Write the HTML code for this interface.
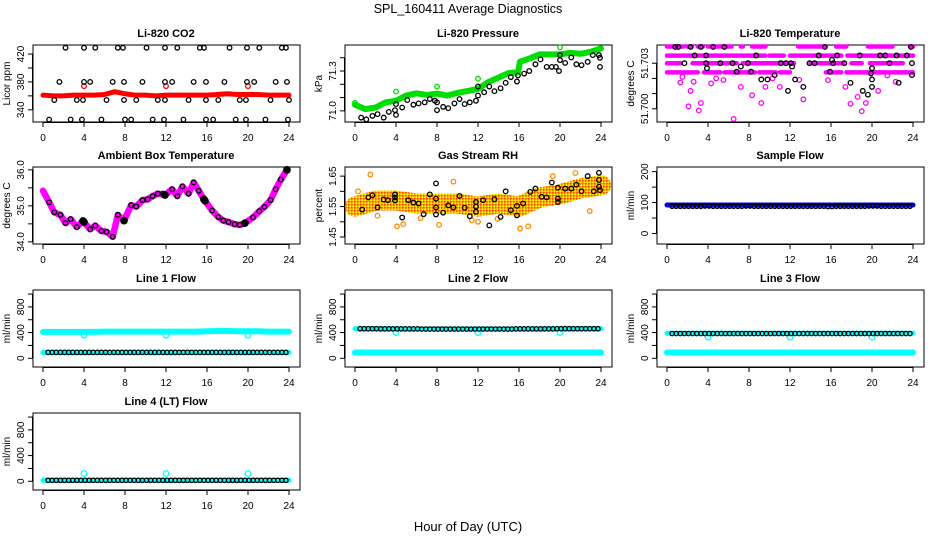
<!DOCTYPE html>
<html><head><meta charset="utf-8">
<style>
html,body{margin:0;padding:0;background:#fff;}
svg{display:block;font-family:"Liberation Sans",Arial,sans-serif;}
.ttl{font-size:11px;font-weight:bold;}
.tk{font-size:10px;}
</style></head>
<body>
<svg id="chart" width="936" height="540" viewBox="0 0 936 540">
<text x="468" y="13" text-anchor="middle" font-size="12.5">SPL_160411  Average Diagnostics</text>
<text x="468" y="531" text-anchor="middle" font-size="13">Hour of Day (UTC)</text>
</svg>
<script>
// ---- data ----
const xTicks=[0,4,8,12,16,20,24];
// CO2
const co2RedH=[0,1,2,3,4,5,6,7,8,9,10,11,12,13,14,15,16,17,18,19,20,21,22,23,24];
const co2RedV=[361,360,360,361,361,361,362,366,363,361,361,360,361,361,361,361,361,362,363,362,362,362,361,361,361];
const co2RedPtsH=[4,12,20];
const co2RedPtsV=[374,374,374];
const co2BlkH=[2.2,4,5.1,7.3,7.8,10.1,11.9,13.1,15.3,15.7,18.2,19.9,21.1,23.3,23.7,
 1.6,4,4.6,6.8,7.9,9.7,11.9,12.6,14.7,15.9,17.7,19.9,20.6,22.7,23.8,
 1.1,3.3,3.9,6.2,7.9,9.1,11.2,11.9,14.2,15.9,17.1,19.2,19.8,22.2,24,
 0.6,2.7,3.8,5.7,8,8.6,10.7,11.8,13.7,15.9,16.6,18.8,19.8,21.7,23.9];
const co2BlkV=[429,429,429,429,429,429,429,429,429,429,429,429,429,429,429,
 380,380,380,380,380,380,380,380,380,380,380,380,380,380,380,
 354,354,354,354,354,354,354,354,354,354,354,354,354,354,354,
 326,326,326,326,326,326,326,326,326,326,326,326,326,326,326];
// Pressure
const prGrnH=[0,1,2,3,4,5,6,7,8,9,10,11,12,13,14,15,15.9,16.1,17,18,19,20,21,22,23,24];
const prGrnV=[71.046,71.013,71.025,71.064,71.076,71.115,71.132,71.12,71.13,71.115,71.135,71.15,71.165,71.216,71.25,71.285,71.29,71.37,71.394,71.425,71.425,71.425,71.437,71.43,71.445,71.47];
const prGrnPtsH=[0,4,8,12,20];
const prGrnPtsV=[71.06,71.145,71.183,71.242,71.478];
const prBlkH=[0.6,1.1,1.7,2.2,2.8,3.3,3.9,4,4,4.6,5.1,5.7,6.2,6.8,7.3,7.8,8,8,8.6,9.1,9.7,10.2,10.7,11.2,11.8,12,12,12.6,13.1,13.6,14.2,14.7,15.2,15.8,15.9,16.5,17,17.6,18.1,18.7,19.2,19.6,19.9,20,20,20.5,21.1,21.6,22.1,22.7,23.2,23.8,23.9,23.9];
const prBlkV=[70.949,70.936,70.962,70.975,70.949,70.992,71.005,70.969,71.051,71.025,71.081,71.046,71.056,71.064,71.089,71.076,71.005,71.064,71.03,71.02,71.056,71.089,71.051,71.064,71.076,71.115,71.183,71.14,71.183,71.148,71.17,71.211,71.254,71.221,71.267,71.28,71.3,71.351,71.387,71.331,71.331,71.331,71.3,71.382,71.42,71.361,71.402,71.351,71.344,71.369,71.42,71.42,71.331,71.4];
// Li-820 temperature
const tLevels=[51.7041,51.7035,51.7030,51.7024];
const tSegStart=[[0,2,3,4,7.2,8.3,12.8,16.5,19.6,23.7],[0,10,12,17.6],[0,2.5,3.7,7.4,14,18,19.8],[0,3.6,5.6,9,11,15.5,17.5,20.3]];
const tSegEnd=[[1.6,2.4,3.5,6.3,7.4,9.6,15.4,17.5,22,24],[9.6,11.4,17,24],[1.3,3.5,6.8,12.4,17.2,19,23],[3,5.2,8.6,10.6,12,17,20,24]];
const tMagH=[1.3,2.3,2.1,3.1,3.3,2.6,4.3,5.5,6.5,7.2,8.3,9.2,9.6,10.3,11,13.3,15.7,17.4,17.9,18.6,19,19.4,20.6,22.3,1.5,4.8,12.9,21.5];
const tMagV=[51.70173,51.70118,51.70016,51.69989,51.70038,51.70178,51.70167,51.70189,51.69933,51.70144,51.70089,51.70038,51.70144,51.702,51.70144,51.70062,51.70189,51.70144,51.70033,51.70078,51.69984,51.70038,51.70118,51.70178,51.7021,51.7020,51.7019,51.7022];
const tBlkH=[0.8,1.1,2.3,3.3,4.5,5.6,15.4,23.8,2.7,3.8,8.7,14.8,16.6,18.8,20.8,21.3,22.4,23.4,1.7,3.8,5.2,6.4,7.9,11.1,11.6,12.1,13.9,14.4,16.2,17.3,21.7,23.9,3.9,7.2,6.8,8.2,9.2,9.8,10.5,12.2,12.5,13.3,11.8,15.9,16.1,17.9,19.6,20,19.9,20,20,19.1,22.6,23.9];
const tBlkV=[51.70407,51.70407,51.70407,51.70407,51.70407,51.70407,51.70407,51.70407,51.70351,51.70351,51.70351,51.70351,51.70351,51.70351,51.70351,51.70351,51.70351,51.70351,51.703,51.703,51.703,51.703,51.703,51.703,51.703,51.703,51.703,51.703,51.703,51.703,51.703,51.703,51.70267,51.70278,51.70244,51.70244,51.70193,51.70193,51.70222,51.70278,51.70193,51.70144,51.70118,51.70244,51.70322,51.70171,51.70093,51.70267,51.70233,51.70193,51.70144,51.70118,51.70171,51.70222];
// Ambient
const ambMagH=[0,0.6,1.1,1.7,2.2,2.7,3.3,3.9,4.6,5.1,5.7,6.2,6.8,7.3,7.9,8.6,9.1,9.7,10.2,10.7,11.2,11.9,12.6,13.1,13.6,14.2,14.7,15.2,15.7,16.5,17.1,17.6,18.1,18.7,19.2,19.7,20.5,21.1,21.6,22.2,22.7,23.2,23.8];
const ambMagV=[35.42,35.1,34.82,34.75,34.52,34.63,34.41,34.58,34.35,34.45,34.3,34.28,34.14,34.75,34.59,35.02,34.98,35.16,35.18,35.27,35.34,35.3,35.46,35.27,35.54,35.34,35.65,35.42,35.18,34.87,34.69,34.59,34.55,34.49,34.47,34.52,34.68,34.85,34.97,35.16,35.46,35.73,36.0];
const ambBlkH=[0.6,1.1,1.7,2.2,2.7,3.3,4.6,5.1,5.7,6.2,6.8,7.3,8.6,9.1,9.7,10.2,10.7,11.2,11.7,12.6,13.1,13.6,14.2,14.7,15.2,16.5,17.1,17.6,18.1,18.7,19.2,20.5,21.1,21.6,22.2,22.7,23.2];
const ambBlkV=[35.1,34.82,34.75,34.52,34.63,34.41,34.35,34.45,34.3,34.28,34.14,34.75,35.02,34.98,35.16,35.18,35.27,35.34,35.34,35.46,35.27,35.54,35.34,35.65,35.42,34.87,34.69,34.59,34.55,34.49,34.47,34.68,34.85,34.97,35.16,35.46,35.73];
const ambFillH=[3.9,4.0,7.9,11.9,15.7,15.8,19.7,23.8];
const ambFillV=[34.58,34.55,34.59,35.3,35.18,35.14,34.52,36.0];
// RH
const rhBandH=[0,2,4,6,8,10,12,14,16,18,20,22,24];
const rhBandV=[1.55,1.57,1.57,1.56,1.56,1.56,1.55,1.56,1.55,1.58,1.59,1.61,1.62];
const rhBlkH=[0.7,1.3,1.7,2.2,2.8,3.2,3.9,3.9,3.9,4.6,5.2,5.7,6.2,6.7,7.3,7.9,7.9,7.9,7.9,8.6,9.1,9.6,10.2,10.7,11.2,11.8,11.8,11.8,12.5,13.1,13.6,14.2,14.7,15.2,15.8,15.8,16.4,17.1,17.6,18.2,18.7,19.2,19.8,19.8,19.8,20.5,21.1,21.6,22.1,22.7,23.3,23.8,23.8,23.8,23.9];
const rhBlkV=[1.54,1.58,1.587,1.547,1.573,1.571,1.59,1.58,1.57,1.514,1.571,1.563,1.56,1.525,1.59,1.626,1.576,1.547,1.524,1.53,1.554,1.547,1.585,1.546,1.518,1.565,1.55,1.533,1.571,1.488,1.574,1.516,1.6,1.538,1.552,1.521,1.56,1.598,1.609,1.582,1.58,1.629,1.612,1.576,1.565,1.609,1.609,1.622,1.6,1.65,1.6,1.661,1.637,1.615,1.604];
const rhOrgH=[1.5,4.1,4.7,9.6,16.1,16.9,21.5,0.3,2.2,6.4,8.2,11.4,13.9,19.3,22.9,12.0];
const rhOrgV=[1.655,1.485,1.492,1.632,1.478,1.485,1.66,1.6,1.52,1.512,1.49,1.505,1.51,1.65,1.535,1.5];
// Flows (hourly values)
const hours=[0,1,2,3,4,5,6,7,8,9,10,11,12,13,14,15,16,17,18,19,20,21,22,23,24];
const sampleBlue=[92,92,92,92,92,92,92,92,92,92,92,92,92,92,92,92,92,92,92,92,92,92,92,92,92];
const sampleBlk=[88,88,88,88,89,88,88,88,89,88,88,88,88,88,88,88,87,88,88,88,89,88,88,88,88];
const dipH=[4,12,20];
const l1CyanHi=[410,410,410,410,410,410,415,415,415,415,415,415,415,415,415,415,420,425,425,420,420,420,415,415,415];
const l1Dip=[360,360,360];
const l1CyanLo=[90,90,90,90,90,90,90,90,90,90,90,90,90,90,90,90,90,90,90,90,90,90,90,90,90];
const l1Blk=[92,92,92,92,92,92,92,92,92,92,92,92,92,92,92,92,92,92,92,92,92,92,92,92,92];
const l2CyanHi=[460,460,460,460,460,455,455,455,455,455,455,455,455,455,455,455,455,455,455,460,460,460,460,460,460];
const l2Dip=[400,400,400];
const l2CyanLo=[90,90,90,90,90,90,90,90,90,90,90,90,90,90,90,90,90,90,90,90,90,90,90,90,90];
const l2Blk=[460,460,460,458,458,458,458,455,455,455,455,455,455,455,455,455,458,458,458,458,460,460,460,460,460];
const l3CyanHi=[390,390,390,390,390,390,390,390,390,390,390,390,390,390,390,390,390,390,390,390,390,390,390,390,390];
const l3Dip=[330,330,330];
const l3CyanLo=[90,90,90,90,90,90,90,90,90,90,90,90,90,90,90,90,90,90,90,90,90,90,90,90,90];
const l3Blk=[385,385,385,385,385,385,385,385,385,385,385,385,385,385,385,385,385,385,385,385,385,385,385,385,385];
const l4Cyan=[15,15,15,15,15,15,15,15,15,15,15,15,15,15,15,15,15,15,15,15,15,15,15,15,15];
const l4Spike=[120,120,120];
const l4Blk=[15,15,15,15,15,15,15,15,15,15,15,15,15,15,15,15,15,15,15,15,15,15,15,15,15];

// ---- drawing ----
const svg=document.getElementById('chart');
const NS='http://www.w3.org/2000/svg';
function mk(tag,attrs,parent){const e=document.createElementNS(NS,tag);for(const k in attrs)e.setAttribute(k,attrs[k]);(parent||svg).appendChild(e);return e;}
const colX0=[43,355,667], rowTop=[45,167,290,413], W=246, H=77;
function panel(col,row,ymin,ymax,ticks,labels,ylab,title,name){
  const x0=colX0[col], top=rowTop[row], bot=top+H;
  const g=mk('g',{});
  
  
  const sx=h=>x0+h/24*W;
  const sy=v=>top+(ymax-v)/(ymax-ymin)*H;
  const box=mk('rect',{x:x0-10,y:top,width:267,height:H,fill:'none',stroke:'#000','stroke-width':1},g);
  
  
  const t=mk('text',{x:x0+123,y:top-8,'text-anchor':'middle',class:'ttl'},g);t.textContent=title;
  
  
  const xa=mk('g',{},g);
  
  
  mk('line',{x1:sx(0),x2:sx(24),y1:bot+0.5,y2:bot+0.5,stroke:'#000'},xa);
  xTicks.forEach(v=>{mk('line',{x1:sx(v),x2:sx(v),y1:bot,y2:bot+5,stroke:'#000'},xa);
    const l=mk('text',{x:sx(v),y:bot+19,'text-anchor':'middle',class:'tk'},xa);l.textContent=v;});
  const ya=mk('g',{},g);
  
  
  mk('line',{x1:x0-10.5,x2:x0-10.5,y1:sy(ticks[0]),y2:sy(ticks[ticks.length-1]),stroke:'#000'},ya);
  ticks.forEach(v=>mk('line',{x1:x0-15,x2:x0-10,y1:sy(v),y2:sy(v),stroke:'#000'},ya));
  labels.forEach(v=>{const yy=sy(v);const l=mk('text',{x:x0-19,y:yy,'text-anchor':'middle',class:'tk',transform:`rotate(-90 ${x0-19} ${yy})`},ya);l.textContent=v;});
  const yl=mk('text',{x:x0-33,y:top+H/2,'text-anchor':'middle',class:'tk',transform:`rotate(-90 ${x0-33} ${top+H/2})`},ya);yl.textContent=ylab;
  
  
  const marks=mk('g',{},g);
  
  
  return {sx,sy,g:marks};
}
function band(p,hs,vs,color,w,name){
  const pl=mk('polyline',{points:hs.map((h,i)=>p.sx(h)+','+p.sy(vs[i])).join(' '),fill:'none',stroke:color,'stroke-width':w,'stroke-linejoin':'round','stroke-linecap':'round'},p.g);
  
  
}
function pts(p,hs,vs,color,name,fill,r){
  hs.forEach((h,i)=>{const c=mk('circle',{cx:p.sx(h),cy:p.sy(vs[i]),r:r||2.3,fill:fill||'none',stroke:color,'stroke-width':1.3},p.g);
    
    });
}
function halfPts(p,vals,color,name){
  for(let h=0.5;h<=24;h+=0.4){const v=vals[Math.round(h)];
    const c=mk('circle',{cx:p.sx(h),cy:p.sy(v),r:2.2,fill:'none',stroke:color,'stroke-width':1.3},p.g);
    
    }
}
const defs=mk('defs',{});
const pat=mk('pattern',{id:'rhpat',width:3,height:3,patternUnits:'userSpaceOnUse'},defs);
mk('rect',{width:3,height:3,fill:'#ffb000'},pat);mk('rect',{width:1.5,height:1.5,fill:'#ff4000'},pat);mk('rect',{x:1.5,y:1.5,width:1.5,height:1.5,fill:'#ffff00'},pat);

// CO2
let p=panel(0,0,322.5,433,[340,360,380,400,420],[340,380,420],'Licor ppm','Li-820 CO2','co2');
band(p,co2RedH,co2RedV,'#ff0000',5,'co2-red-series');
pts(p,co2RedPtsH,co2RedPtsV,'#ff0000','co2-red-point');
pts(p,co2BlkH,co2BlkV,'#000','co2-black-point');
// Pressure
p=panel(1,0,70.916,71.496,[71.0,71.1,71.2,71.3,71.4],['71.0','71.3'],'kPa','Li-820 Pressure','pressure');
band(p,prGrnH,prGrnV,'#00dd00',6,'pressure-green-series');
pts(p,prGrnPtsH,prGrnPtsV,'#00dd00','pressure-green-point');
pts(p,prBlkH,prBlkV,'#000','pressure-black-point');
// Temperature
p=panel(2,0,51.69913,51.7042,[51.700,51.701,51.702,51.703],['51.700','51.703'],'degrees C','Li-820 Temperature','li820-temp');
tLevels.forEach((lv,i)=>tSegStart[i].forEach((s,j)=>band(p,[s,tSegEnd[i][j]],[lv,lv],'#ff00ff',4.5,'li820-temp-magenta-band')));
pts(p,tMagH,tMagV,'#ff00ff','li820-temp-magenta-point');
pts(p,tBlkH,tBlkV,'#000','li820-temp-black-point');
// Ambient
p=panel(0,1,33.94,36.08,[34,34.5,35,35.5,36],['34.0','35.0','36.0'],'degrees C','Ambient Box Temperature','ambient');
band(p,ambMagH,ambMagV,'#ff00ff',6.5,'ambient-magenta-series');
pts(p,ambBlkH,ambBlkV,'#000','ambient-black-point');
pts(p,ambFillH,ambFillV,'#000','ambient-filled-point','#000',3.2);
// RH
p=panel(1,1,1.427,1.68,[1.45,1.5,1.55,1.6,1.65],['1.45','1.55','1.65'],'percent','Gas Stream RH','rh');
band(p,rhBandH,rhBandV,'url(#rhpat)',20,'rh-orange-series');
pts(p,rhOrgH,rhOrgV,'#ff8c00','rh-orange-point');
pts(p,rhBlkH,rhBlkV,'#000','rh-black-point');
// Sample flow
p=panel(2,1,-34,215,[0,50,100,150,200],[0,100,200],'ml/min','Sample Flow','sample-flow');
band(p,hours,sampleBlue,'#0000ee',5,'sample-flow-blue-series');
halfPts(p,sampleBlk,'#000','sample-flow-black-point');
// Line flows
const fT=[0,200,400,600,800,1000], fL=[0,400,800];
p=panel(0,2,-136,1063,fT,fL,'ml/min','Line 1 Flow','line1-flow');
band(p,hours,l1CyanHi,'#00ffff',6,'line1-cyan-high');band(p,hours,l1CyanLo,'#00ffff',5,'line1-cyan-low');
pts(p,dipH,l1Dip,'#00ffff','line1-cyan-dip',null,2.8);
halfPts(p,l1Blk,'#000','line1-black-point');
p=panel(1,2,-136,1063,fT,fL,'ml/min','Line 2 Flow','line2-flow');
band(p,hours,l2CyanHi,'#00ffff',5,'line2-cyan-high');band(p,hours,l2CyanLo,'#00ffff',6,'line2-cyan-low');
pts(p,dipH,l2Dip,'#00ffff','line2-cyan-dip',null,2.8);
halfPts(p,l2Blk,'#000','line2-black-point');
p=panel(2,2,-136,1063,fT,fL,'ml/min','Line 3 Flow','line3-flow');
band(p,hours,l3CyanHi,'#00ffff',5,'line3-cyan-high');band(p,hours,l3CyanLo,'#00ffff',6,'line3-cyan-low');
pts(p,dipH,l3Dip,'#00ffff','line3-cyan-dip',null,2.8);
halfPts(p,l3Blk,'#000','line3-black-point');
p=panel(0,3,-136,1063,fT,fL,'ml/min','Line 4 (LT) Flow','line4-flow');
band(p,hours,l4Cyan,'#00ffff',5,'line4-cyan-series');
pts(p,dipH,l4Spike,'#00ffff','line4-cyan-spike',null,2.8);
halfPts(p,l4Blk,'#000','line4-black-point');
</script>
</body></html>
